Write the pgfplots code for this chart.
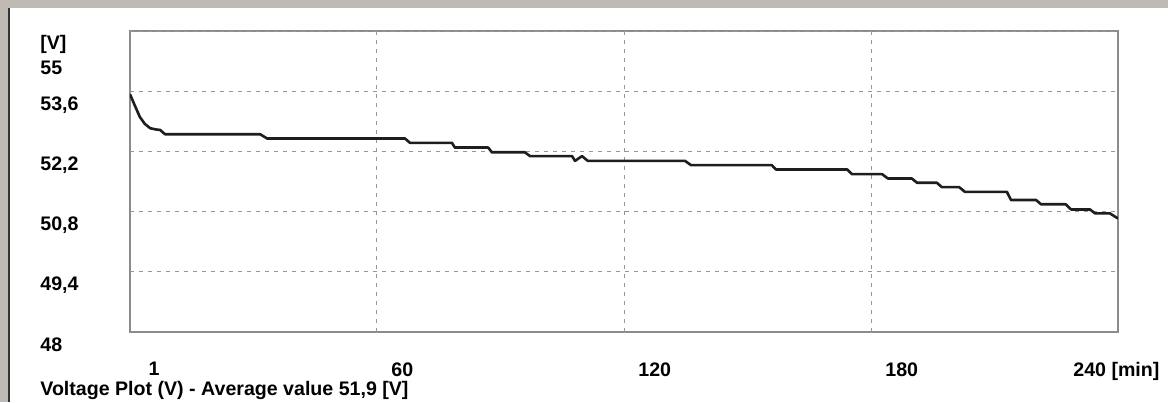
\documentclass[border=0pt]{standalone}
\usepackage{fontspec}
\setmainfont{Liberation Sans}
\usepackage{pgfplots}
\pgfplotsset{compat=1.18}
\definecolor{paper}{RGB}{190,185,178}
\definecolor{framec}{RGB}{140,140,140}
\definecolor{gridc}{RGB}{150,150,150}
\definecolor{trace}{RGB}{30,30,30}

\begin{document}
\begin{tikzpicture}[font=\fontsize{9.8}{11}\selectfont\bfseries]
% scanned page background
\fill[paper] (-65pt,-35pt) rectangle (519pt,166pt);
\fill[white] (-61pt,-35pt) rectangle (519pt,162pt);
\draw[black!80, line width=1pt] (-60.5pt,-35pt) -- (-60.5pt,162pt);
\begin{axis}[
    scale only axis,
    width=494pt, height=150.5pt,
    xmin=0, xmax=240, ymin=48, ymax=55,
    xtick={1,60,120,180,240},
    xticklabels={1,60,120,180,\hspace*{-29.5pt}240 [min]},
    extra x ticks={60,120,180},
    extra x tick labels={},
    extra x tick style={grid=major},
    ytick={48,49.4,50.8,52.2,53.6},
    yticklabels={48,{49,4},{50,8},{52,2},{53,6}},
    extra y ticks={55},
    extra y tick labels={55},
    extra y tick style={yticklabel style={yshift=-12pt}},
    ymajorgrids,
    major tick length=0pt,
    xticklabel style={anchor=north west, inner sep=0pt, xshift=7pt, yshift=-15pt},
    yticklabel style={anchor=base west, inner sep=0pt, xshift=-45pt, yshift=-9.5pt},
    major grid style={gridc, dash pattern=on 2pt off 2.5pt, line width=0.5pt},
    axis line style={framec, line width=0.6pt},
]
\addplot[trace, line width=1.3pt, line join=round, mark=none] table {
0     53.53
1.2   53.26
2.4   53.00
3.6   52.84
4.9   52.74
6.3   52.71
7.3   52.70
8.5   52.60
31.6  52.60
33.3  52.50
66.8  52.50
68.0  52.40
78.2  52.40
78.9  52.29
87.0  52.29
87.9  52.18
95.9  52.18
97.2  52.09
107.4 52.09
108.1 51.98
109.8 52.09
111.2 51.98
134.8 51.98
136.3 51.88
155.9 51.88
156.9 51.78
174.2 51.78
175.4 51.67
182.7 51.67
184.1 51.57
189.9 51.57
191.2 51.47
196.0 51.47
197.2 51.37
201.4 51.37
202.8 51.26
213.0 51.26
214.0 51.07
220.1 51.07
221.3 50.97
227.3 50.97
228.6 50.85
233.2 50.85
234.4 50.76
238.0 50.76
240.0 50.64
};
\end{axis}
\node[anchor=base west, inner sep=0pt] at (-45pt,141pt) {[V]};
\node[anchor=base west, inner sep=0pt] at (-45pt,-31.5pt) {Voltage Plot (V) - Average value 51,9 [V]};
\pgfresetboundingbox
\path (-65pt,-35pt) rectangle (519pt,166pt);
\end{tikzpicture}
\end{document}
